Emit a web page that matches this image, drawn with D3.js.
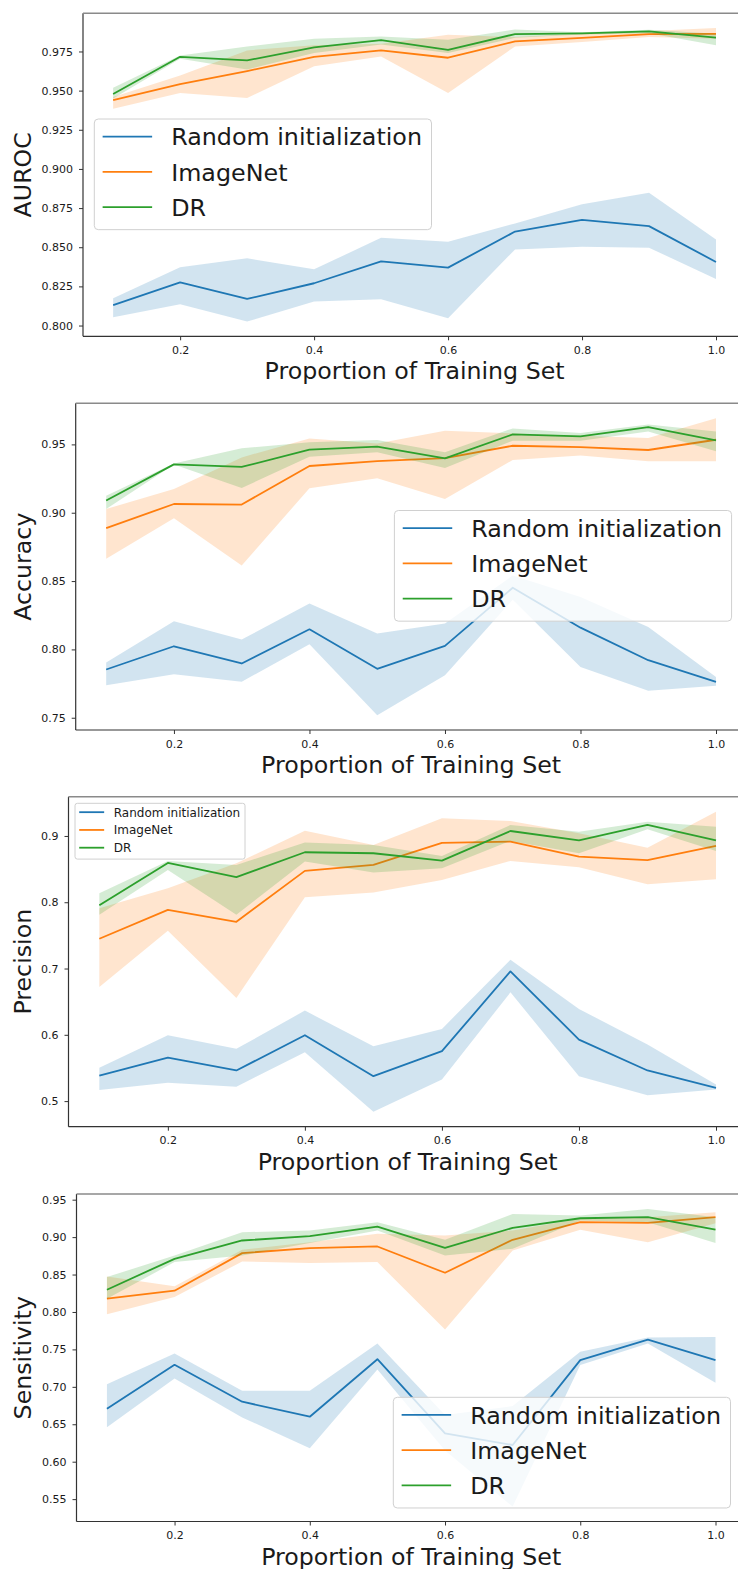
<!DOCTYPE html>
<html>
<head>
<meta charset="utf-8">
<script src="https://cdn.jsdelivr.net/npm/d3@7"></script>
<style>
  html, body { margin: 0; padding: 0; background: #fff; }
  svg { display: block; }
  text { font-family: "DejaVu Sans", sans-serif; fill: #1a1a1a; }
</style>
</head>
<body>
<svg id="chart" width="738" height="1569"></svg>
<script>
// ---------------- DATA ----------------
const proportions = [0.1, 0.2, 0.3, 0.4, 0.5, 0.6, 0.7, 0.8, 0.9, 1.0];
const seriesNames = ["Random initialization", "ImageNet", "DR"];
const seriesColors = ["#1f77b4", "#ff7f0e", "#2ca02c"];
const xTicks = [0.2, 0.4, 0.6, 0.8, 1.0];
const xLabel = "Proportion of Training Set";

// AUROC
const aurocRandom   = [0.813, 0.8276, 0.817, 0.827, 0.841, 0.837, 0.860, 0.8675, 0.8635, 0.8406];
const aurocRandomLo = [0.8053, 0.8136, 0.8025, 0.8153, 0.8168, 0.8047, 0.8486, 0.8503, 0.8497, 0.8297];
const aurocRandomHi = [0.8174, 0.8372, 0.8429, 0.8359, 0.856, 0.8535, 0.8652, 0.8775, 0.8848, 0.855];
const aurocImageNet   = [0.944, 0.9542, 0.9625, 0.9716, 0.9757, 0.971, 0.9814, 0.9837, 0.9861, 0.9863];
const aurocImageNetLo = [0.9385, 0.9485, 0.9453, 0.9655, 0.9718, 0.9485, 0.9782, 0.981, 0.9842, 0.9831];
const aurocImageNetHi = [0.946, 0.9597, 0.9757, 0.9789, 0.980, 0.9856, 0.9842, 0.9863, 0.988, 0.990];
const aurocDR   = [0.9478, 0.9716, 0.9693, 0.9776, 0.9822, 0.976, 0.9861, 0.9865, 0.9878, 0.9839];
const aurocDRLo = [0.9449, 0.9703, 0.9635, 0.974, 0.9795, 0.974, 0.9837, 0.9858, 0.9867, 0.9789];
const aurocDRHi = [0.9519, 0.9725, 0.9782, 0.9831, 0.9846, 0.9825, 0.989, 0.9873, 0.9888, 0.9863];
const aurocTicks = [0.800, 0.825, 0.850, 0.875, 0.900, 0.925, 0.950, 0.975];

// Accuracy
const accRandom   = [0.7853, 0.8023, 0.7897, 0.8147, 0.7858, 0.8026, 0.8451, 0.8159, 0.7921, 0.7763];
const accRandomLo = [0.7738, 0.7819, 0.7763, 0.8038, 0.7519, 0.7811, 0.8364, 0.7872, 0.7697, 0.7734];
const accRandomHi = [0.7904, 0.8206, 0.8072, 0.8335, 0.8116, 0.8189, 0.8541, 0.8383, 0.8164, 0.7799];
const accImageNet   = [0.8887, 0.9064, 0.906, 0.9342, 0.9378, 0.940, 0.949, 0.948, 0.9459, 0.9534];
const accImageNetLo = [0.8663, 0.896, 0.8614, 0.9179, 0.9252, 0.910, 0.9386, 0.9418, 0.9376, 0.9376];
const accImageNetHi = [0.9028, 0.9174, 0.9405, 0.9544, 0.9507, 0.96, 0.958, 0.9563, 0.9546, 0.9692];
const accDR   = [0.9089, 0.9354, 0.9335, 0.9461, 0.9483, 0.9398, 0.9573, 0.9558, 0.9627, 0.9529];
const accDRLo = [0.9028, 0.9352, 0.9181, 0.941, 0.9442, 0.9327, 0.9527, 0.9527, 0.9595, 0.9449];
const accDRHi = [0.9125, 0.9361, 0.9471, 0.9515, 0.9532, 0.9442, 0.9617, 0.9583, 0.9646, 0.9595];
const accTicks = [0.75, 0.80, 0.85, 0.90, 0.95];

// Precision
const precRandom   = [0.5386, 0.5657, 0.5462, 0.5994, 0.5376, 0.5753, 0.6957, 0.5928, 0.5462, 0.5201];
const precRandomLo = [0.5166, 0.5276, 0.5216, 0.5738, 0.484, 0.5326, 0.6641, 0.5376, 0.509, 0.5176];
const precRandomHi = [0.5502, 0.5994, 0.5788, 0.6365, 0.5828, 0.6089, 0.7133, 0.639, 0.5853, 0.5251];
const precImageNet   = [0.7449, 0.7886, 0.7705, 0.8473, 0.8563, 0.8895, 0.8915, 0.8689, 0.8634, 0.885];
const precImageNetLo = [0.6721, 0.757, 0.6556, 0.8076, 0.8147, 0.8337, 0.8624, 0.8528, 0.8272, 0.8347];
const precImageNetHi = [0.7911, 0.8212, 0.8588, 0.908, 0.8865, 0.9266, 0.9226, 0.904, 0.8824, 0.9366];
const precDR   = [0.7956, 0.8593, 0.8378, 0.8754, 0.8739, 0.8629, 0.9075, 0.8935, 0.9166, 0.8935];
const precDRLo = [0.781, 0.8488, 0.781, 0.8614, 0.8448, 0.8513, 0.8925, 0.8739, 0.91, 0.8774];
const precDRHi = [0.8137, 0.8623, 0.8563, 0.89, 0.8865, 0.8699, 0.9166, 0.9065, 0.9216, 0.914];
const precTicks = [0.5, 0.6, 0.7, 0.8, 0.9];

// Sensitivity
const sensRandom   = [0.6708, 0.7294, 0.6801, 0.6601, 0.7369, 0.6379, 0.6223, 0.7356, 0.7631, 0.7356];
const sensRandomLo = [0.6459, 0.7112, 0.6592, 0.618, 0.7232, 0.615, 0.540, 0.729, 0.7578, 0.7054];
const sensRandomHi = [0.7036, 0.7445, 0.6948, 0.6948, 0.7578, 0.6623, 0.6743, 0.7467, 0.7658, 0.7667];
const sensImageNet   = [0.8178, 0.8284, 0.8786, 0.8853, 0.8875, 0.8524, 0.8964, 0.9199, 0.919, 0.9266];
const sensImageNetLo = [0.7969, 0.82, 0.8675, 0.8653, 0.8666, 0.7765, 0.8822, 0.9097, 0.8933, 0.9186];
const sensImageNetHi = [0.8475, 0.8342, 0.883, 0.8933, 0.9044, 0.9022, 0.9088, 0.9244, 0.9266, 0.9333];
const sensDR   = [0.8297, 0.871, 0.8955, 0.9012, 0.9141, 0.8857, 0.9124, 0.9252, 0.9266, 0.9101];
const sensDRLo = [0.8178, 0.8666, 0.8755, 0.892, 0.9088, 0.8755, 0.8844, 0.9222, 0.92, 0.892];
const sensDRHi = [0.8466, 0.8755, 0.9066, 0.9088, 0.9199, 0.8964, 0.931, 0.9288, 0.9377, 0.9266];
const sensTicks = [0.55, 0.60, 0.65, 0.70, 0.75, 0.80, 0.85, 0.90, 0.95];

// ---------------- LAYOUT ----------------
const panels = [
  { label: "AUROC", fmt: ".3f", ticks: aurocTicks,
    series: [[aurocRandom, aurocRandomLo, aurocRandomHi], [aurocImageNet, aurocImageNetLo, aurocImageNetHi], [aurocDR, aurocDRLo, aurocDRHi]],
    left: 83, top: 13.3, bottom: 336.3, x1: 716, legend: { x: 94.3, y: 119, fs: 23.8 } },
  { label: "Accuracy", fmt: ".2f", ticks: accTicks,
    series: [[accRandom, accRandomLo, accRandomHi], [accImageNet, accImageNetLo, accImageNetHi], [accDR, accDRLo, accDRHi]],
    left: 75.7, top: 403.3, bottom: 730, x1: 716, legend: { x: 394.4, y: 510.5, fs: 23.8 } },
  { label: "Precision", fmt: ".1f", ticks: precTicks,
    series: [[precRandom, precRandomLo, precRandomHi], [precImageNet, precImageNetLo, precImageNetHi], [precDR, precDRLo, precDRHi]],
    left: 68.5, top: 796.7, bottom: 1126.7, x1: 716, legend: { x: 75, y: 803.3, fs: 12 } },
  { label: "Sensitivity", fmt: ".2f", ticks: sensTicks,
    series: [[sensRandom, sensRandomLo, sensRandomHi], [sensImageNet, sensImageNetLo, sensImageNetHi], [sensDR, sensDRLo, sensDRHi]],
    left: 76.5, top: 1194, bottom: 1521.5, x1: 715.5, legend: { x: 393.3, y: 1397.3, fs: 23.8 } }
];

const svg = d3.select("#chart");
svg.append("rect").attr("width", 738).attr("height", 1569).attr("fill", "#fff");

panels.forEach(p => {
  const xMin = 0.055, xMax = 1.045;
  const unit = (p.x1 - p.left) / (1.0 - xMin);
  const right = p.left + unit * (xMax - xMin);
  const x = d3.scaleLinear().domain([xMin, xMax]).range([p.left, right]);

  const allLo = d3.min(p.series, s => d3.min(s[1]));
  const allHi = d3.max(p.series, s => d3.max(s[2]));
  const m = (allHi - allLo) * 0.05;
  const y = d3.scaleLinear().domain([allLo - m, allHi + m]).range([p.bottom, p.top]);

  const g = svg.append("g");

  // series: line then band (seaborn order)
  const line = d3.line().x((d, i) => x(proportions[i])).y(d => y(d));
  const area = d3.area().x((d, i) => x(proportions[i])).y0((d, i) => y(d[0])).y1(d => y(d[1]));
  p.series.forEach((s, k) => {
    g.append("path").datum(s[0]).attr("d", line)
      .attr("fill", "none").attr("stroke", seriesColors[k]).attr("stroke-width", 1.8)
      .attr("stroke-linejoin", "round");
    g.append("path").datum(s[1].map((lo, i) => [lo, s[2][i]])).attr("d", area)
      .attr("fill", seriesColors[k]).attr("fill-opacity", 0.2).attr("stroke", "none");
  });

  // axes
  const ax = g.append("g").attr("transform", `translate(0,${p.bottom})`)
    .call(d3.axisBottom(x).tickValues(xTicks).tickFormat(d3.format(".1f")).tickSize(4).tickPadding(6));
  const ay = g.append("g").attr("transform", `translate(${p.left},0)`)
    .call(d3.axisLeft(y).tickValues(p.ticks).tickFormat(d3.format(p.fmt)).tickSize(4).tickPadding(6));
  [ax, ay].forEach(a => {
    a.select(".domain").remove();
    a.selectAll("line").attr("stroke", "#333").attr("stroke-width", 1);
    a.selectAll("text").attr("font-size", 11).attr("fill", "#262626")
      .attr("font-family", "DejaVu Sans, sans-serif");
  });

  // spines
  g.append("line").attr("x1", p.left).attr("x2", right).attr("y1", p.bottom).attr("y2", p.bottom)
    .attr("stroke", "#333").attr("stroke-width", 1.2);
  g.append("line").attr("x1", p.left).attr("x2", p.left).attr("y1", p.top).attr("y2", p.bottom)
    .attr("stroke", "#333").attr("stroke-width", 1.2);
  g.append("line").attr("x1", p.left).attr("x2", right).attr("y1", p.top).attr("y2", p.top)
    .attr("stroke", "#8a8a8a").attr("stroke-width", 1.6);
  g.append("line").attr("x1", right).attr("x2", right).attr("y1", p.top).attr("y2", p.bottom)
    .attr("stroke", "#333").attr("stroke-width", 1.2);

  // axis labels
  g.append("text").attr("x", (p.left + right) / 2).attr("y", p.bottom + 43)
    .attr("text-anchor", "middle").attr("font-size", 23.7).text(xLabel);
  g.append("text")
    .attr("transform", `translate(30.5,${(p.top + p.bottom) / 2}) rotate(-90)`)
    .attr("text-anchor", "middle").attr("font-size", 23.7).text(p.label);

  // legend
  const L = p.legend, fs = L.fs;
  const lg = g.append("g");
  const box = lg.append("rect");
  const lineX0 = L.x + 0.35 * fs, lineX1 = lineX0 + 2.08 * fs, textX = lineX1 + 0.8 * fs;
  const row0 = L.y + 0.74 * fs, rowStep = 1.48 * fs;
  let maxW = 0;
  seriesNames.forEach((name, k) => {
    const ry = row0 + k * rowStep;
    lg.append("line").attr("x1", lineX0).attr("x2", lineX1).attr("y1", ry).attr("y2", ry)
      .attr("stroke", seriesColors[k]).attr("stroke-width", 1.8);
    const t = lg.append("text").attr("x", textX).attr("y", ry + 0.37 * fs)
      .attr("font-size", fs).attr("fill", "#111").text(name);
    maxW = Math.max(maxW, t.node().getComputedTextLength());
  });
  const boxH = (row0 + 2 * rowStep + 0.95 * fs) - L.y;
  box.attr("x", L.x).attr("y", L.y).attr("width", textX + maxW + 0.4 * fs - L.x).attr("height", boxH)
    .attr("rx", Math.min(4, 0.2 * fs)).attr("fill", "#fff").attr("fill-opacity", 0.8)
    .attr("stroke", "#d0d0d0").attr("stroke-width", 1);
});
</script>
</body>
</html>
